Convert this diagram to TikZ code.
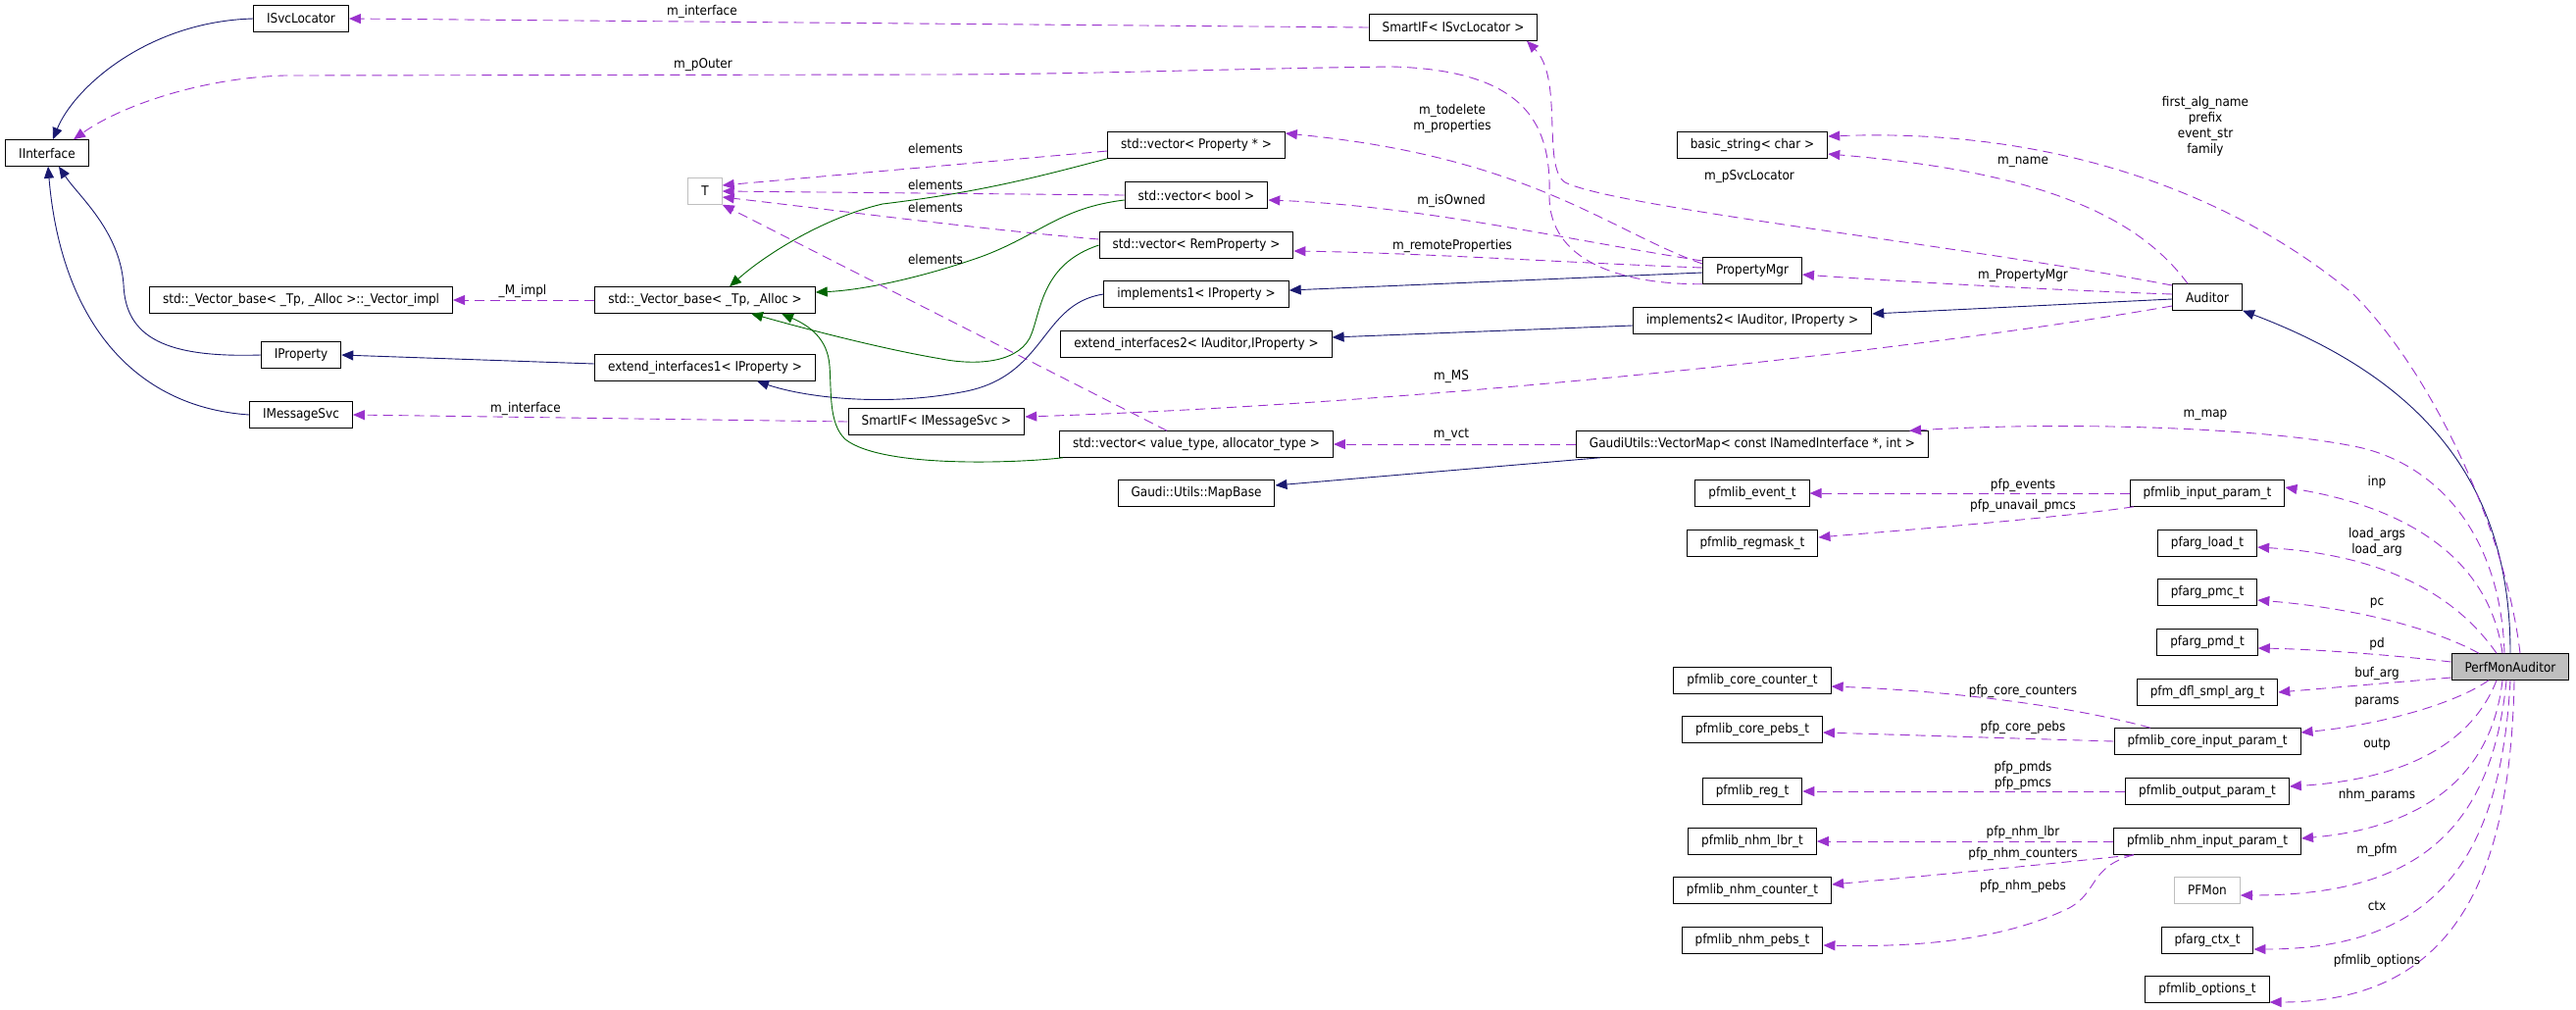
\documentclass[tikz,border=0pt]{standalone}
\usepackage{fontspec}
\setmainfont{DejaVu Sans Condensed}
\usetikzlibrary{arrows.meta}
\definecolor{midnight}{HTML}{191970}
\definecolor{forest}{HTML}{006400}
\definecolor{orchid}{HTML}{9A32CD}
\definecolor{undocgray}{HTML}{BFBFBF}
\begin{document}
\begin{tikzpicture}[x=1pt,y=-1pt]
 \tikzset{cls/.style={draw=black,line width=1pt,font=\fontsize{13.4}{16}\selectfont,inner xsep=13.5pt,inner ysep=0pt,minimum height=26.5pt},
  undoc/.style={cls,draw=undocgray},
  self/.style={cls,fill=undocgray},
  lbl/.style={font=\fontsize{13.4}{16}\selectfont,align=center,inner sep=0pt},
  pub/.style={draw=midnight,line width=0.9pt,-{Triangle[length=12pt,width=10pt]}},
  prot/.style={pub,draw=forest},
  member/.style={draw=orchid,line width=0.9pt,dash pattern=on 10pt off 6pt,-{Triangle[length=12pt,width=10pt]}}}
 \useasboundingbox (0,0) rectangle (2627,1029);

 \node[cls] (iif) at (48,156) {IInterface};
 \node[cls] (isl) at (307,19) {ISvcLocator};
 \node[cls] (vimpl) at (307,306) {std::\_Vector\_base< \_Tp, \_Alloc >::\_Vector\_impl};
 \node[cls] (ipr) at (307,362) {IProperty};
 \node[cls] (ims) at (307,423) {IMessageSvc};
 \node[undoc] (tnode) at (719,195) {T};
 \node[cls] (vbase) at (719,306) {std::\_Vector\_base< \_Tp, \_Alloc >};
 \node[cls] (ext1) at (719,375) {extend\_interfaces1< IProperty >};
 \node[cls] (sims) at (955,430) {SmartIF< IMessageSvc >};
 \node[cls] (vprop) at (1220,148) {std::vector< Property * >};
 \node[cls] (vbool) at (1220,199) {std::vector< bool >};
 \node[cls] (vrem) at (1220,250) {std::vector< RemProperty >};
 \node[cls] (impl1) at (1220,300) {implements1< IProperty >};
 \node[cls] (ext2) at (1220,351) {extend\_interfaces2< IAuditor,IProperty >};
 \node[cls] (vvt) at (1220,453) {std::vector< value\_type, allocator\_type >};
 \node[cls] (mapb) at (1220,503) {Gaudi::Utils::MapBase};
 \node[cls] (sisl) at (1482,28) {SmartIF< ISvcLocator >};
 \node[cls] (bstr) at (1787,148) {basic\_string< char >};
 \node[cls] (pmgr) at (1787,276) {PropertyMgr};
 \node[cls] (impl2) at (1787,327) {implements2< IAuditor, IProperty >};
 \node[cls] (vmap) at (1787,453) {GaudiUtils::VectorMap< const INamedInterface *, int >};
 \node[cls] (pevt) at (1787,503) {pfmlib\_event\_t};
 \node[cls] (pregm) at (1787,554) {pfmlib\_regmask\_t};
 \node[cls] (pcc) at (1787,694) {pfmlib\_core\_counter\_t};
 \node[cls] (pcp) at (1787,744) {pfmlib\_core\_pebs\_t};
 \node[cls] (preg) at (1787,807) {pfmlib\_reg\_t};
 \node[cls] (plbr) at (1787,858) {pfmlib\_nhm\_lbr\_t};
 \node[cls] (pnc) at (1787,908) {pfmlib\_nhm\_counter\_t};
 \node[cls] (pnp) at (1787,959) {pfmlib\_nhm\_pebs\_t};
 \node[cls] (aud) at (2251,303) {Auditor};
 \node[cls] (pinp) at (2251,503) {pfmlib\_input\_param\_t};
 \node[cls] (pload) at (2251,554) {pfarg\_load\_t};
 \node[cls] (ppmc) at (2251,604) {pfarg\_pmc\_t};
 \node[cls] (ppmd) at (2251,655) {pfarg\_pmd\_t};
 \node[cls] (pdfl) at (2251,706) {pfm\_dfl\_smpl\_arg\_t};
 \node[cls] (pcore) at (2251,756) {pfmlib\_core\_input\_param\_t};
 \node[cls] (poutp) at (2251,807) {pfmlib\_output\_param\_t};
 \node[cls] (pnhm) at (2251,858) {pfmlib\_nhm\_input\_param\_t};
 \node[undoc] (pfmon) at (2251,908) {PFMon};
 \node[cls] (pctx) at (2251,959) {pfarg\_ctx\_t};
 \node[cls] (popt) at (2251,1009) {pfmlib\_options\_t};
 \node[self] (pma) at (2560,680) {PerfMonAuditor};

 \draw[pub] (isl.west) .. controls (150,22) and (75,90) .. ([xshift=6pt]iif.north);
 \draw[pub] (ipr.west) .. controls (170,365) and (128,345) .. (126,290) .. controls (122,235) and (80,200) .. ([xshift=12pt]iif.south);
 \draw[pub] (ims.west) .. controls (135,415) and (62,325) .. ([xshift=1pt]iif.south);
 \draw[pub] ([yshift=4pt]ext1.west) -- (ipr.east);
 \draw[pub] (impl1.west) .. controls (1060,310) and (1068,385) .. (980,400) .. controls (900,415) and (820,405) .. ([xshift=53pt]ext1.south);
 \draw[pub] ([yshift=-2pt]pmgr.west) -- ([yshift=4pt]impl1.east);
 \draw[pub] ([yshift=-5pt]impl2.west) -- ([yshift=7pt]ext2.east);
 \draw[pub] ([yshift=-2pt]aud.west) -- ([yshift=7pt]impl2.east);
 \draw[pub] (pma.north) .. controls (2560,500) and (2480,390) .. (aud.south east);
 \draw[pub] ([xshift=-155pt]vmap.south) -- ([yshift=8pt]mapb.east);

 \draw[prot] (vprop.south west) .. controls (1060,180) and (1000,196) .. (900,208) .. controls (840,222) and (780,260) .. ([xshift=25pt]vbase.north);
 \draw[prot] ([yshift=-5pt]vbool.west) .. controls (1080,212) and (1060,240) .. (1000,262) .. controls (940,283) and (880,296) .. ([yshift=8pt]vbase.east);
 \draw[prot] (vrem.west) .. controls (1060,270) and (1062,320) .. (1050,345) .. controls (1035,372) and (990,372) .. (960,366) .. controls (900,356) and (820,335) .. ([xshift=47pt]vbase.south);
 \draw[prot] ([xshift=-136pt]vvt.south) .. controls (1040,472) and (900,478) .. (862,448) .. controls (845,432) and (848,400) .. (846,373) .. controls (844,345) and (825,332) .. ([xshift=78pt]vbase.south);

 \draw[member] (sisl.west) -- (isl.east);
 \draw[member] (sims.west) -- (ims.east);
 \draw[member] (pmgr.south west) .. controls (1650,290) and (1580,265) .. (1580,200) .. controls (1582,130) and (1560,72) .. (1420,68) .. controls (1250,70) and (1100,76) .. (950,76) -- (290,77) .. controls (200,80) and (120,110) .. ([xshift=27pt]iif.north);
 \draw[member] ([yshift=-6pt]vprop.west) -- ([yshift=6pt]tnode.east);
 \draw[member] (vbool.west) -- (tnode.east);
 \draw[member] ([yshift=6pt]vrem.west) .. controls (1000,234) and (850,214) .. ([yshift=-6pt]tnode.east);
 \draw[member] ([xshift=-30pt]vvt.north) -- (tnode.south east);
 \draw[member] ([yshift=7pt]pmgr.west) .. controls (1640,235) and (1560,160) .. ([yshift=12pt]vprop.east);
 \draw[member] ([yshift=10pt]pmgr.west) .. controls (1600,245) and (1450,210) .. ([yshift=-5pt]vbool.east);
 \draw[member] ([yshift=3pt]pmgr.west) .. controls (1600,268) and (1450,258) .. ([yshift=-6pt]vrem.east);
 \draw[member] ([yshift=3pt]aud.west) .. controls (2100,296) and (1950,288) .. ([yshift=-4pt]pmgr.east);
 \draw[member] ([xshift=-20pt]aud.north) .. controls (2180,220) and (2080,175) .. ([yshift=-9pt]bstr.east);
 \draw[member] ([xshift=10pt]pma.north) .. controls (2555,540) and (2480,380) .. (2400,300) .. controls (2280,200) and (2100,130) .. ([yshift=9pt]bstr.east);
 \draw[member] ([yshift=12pt]aud.west) .. controls (2000,250) and (1650,212) .. (1596,186) .. controls (1572,170) and (1595,80) .. ([xshift=75pt]sisl.south);
 \draw[member] ([yshift=-9pt]aud.west) .. controls (2000,350) and (1500,410) .. ([yshift=5pt]sims.east);
 \draw[member] (vmap.west) -- (vvt.east);
 \draw[member] ([xshift=-6pt]pma.north) .. controls (2550,540) and (2480,470) .. (2400,455) .. controls (2300,435) and (2100,430) .. ([xshift=-20pt]vmap.north east);
 \draw[member] (vbase.west) -- (vimpl.east);

 \draw[member] (pinp.west) -- (pevt.east);
 \draw[member] ([xshift=-75pt]pinp.south) .. controls (2100,528) and (1950,540) .. ([yshift=6pt]pregm.east);
 \draw[member] ([xshift=-8pt]pma.north) .. controls (2540,580) and (2470,520) .. ([yshift=6pt]pinp.east);
 \draw[member] ([xshift=-14pt]pma.north) .. controls (2500,600) and (2420,565) .. ([yshift=-4pt]pload.east);
 \draw[member] ([xshift=-32pt]pma.north) .. controls (2480,640) and (2400,620) .. ([yshift=-8pt]ppmc.east);
 \draw[member] ([yshift=5pt]pma.west) .. controls (2440,668) and (2360,662) .. ([yshift=-6pt]ppmd.east);
 \draw[member] ([yshift=-11pt]pma.west) -- (pdfl.east);
 \draw[member] ([xshift=-22pt]pma.south) .. controls (2500,720) and (2420,740) .. ([yshift=9pt]pcore.east);
 \draw[member] ([xshift=-14pt]pma.south) .. controls (2520,760) and (2450,795) .. ([yshift=5pt]poutp.east);
 \draw[member] ([xshift=-8pt]pma.south) .. controls (2540,800) and (2460,845) .. ([yshift=3pt]pnhm.east);
 \draw[member] ([xshift=-4pt]pma.south) .. controls (2540,860) and (2450,913) .. ([yshift=-5pt]pfmon.east);
 \draw[member] (pma.south) .. controls (2550,880) and (2480,968) .. ([yshift=-9pt]pctx.east);
 \draw[member] ([xshift=4pt]pma.south) .. controls (2560,900) and (2500,1022) .. ([yshift=-13pt]popt.east);
 \draw[member] ([xshift=-58pt]pcore.north) .. controls (2120,722) and (2000,705) .. ([yshift=-6pt]pcc.east);
 \draw[member] (pcore.west) -- ([yshift=-3pt]pcp.east);
 \draw[member] (poutp.west) -- (preg.east);
 \draw[member] (pnhm.west) -- (plbr.east);
 \draw[member] ([xshift=-75pt]pnhm.south) .. controls (2100,880) and (2000,890) .. ([yshift=6pt]pnc.east);
 \draw[member] ([xshift=-75pt]pnhm.south) .. controls (2130,884) and (2140,910) .. (2110,926) .. controls (2040,960) and (1950,966) .. ([yshift=-5pt]pnp.east);

 \node[lbl] (linter) at (716,12) {m\_interface};
 \node[lbl] (louter) at (717,66) {m\_pOuter};
 \node[lbl] (lel1) at (954,151) {elements};
 \node[lbl] (lel2) at (954,188) {elements};
 \node[lbl] (lel3) at (954,211) {elements};
 \node[lbl] (lel4) at (954,264) {elements};
 \node[lbl] (lprops) at (1481,121) {m\_todelete\\m\_properties};
 \node[lbl] (lowned) at (1480,205) {m\_isOwned};
 \node[lbl] (lremote) at (1481,251) {m\_remoteProperties};
 \node[lbl] (lsvcloc) at (1784,180) {m\_pSvcLocator};
 \node[lbl] (lname) at (2063,165) {m\_name};
 \node[lbl] (lstrs) at (2249,129) {first\_alg\_name\\prefix\\event\_str\\family};
 \node[lbl] (lpmgr) at (2063,281) {m\_PropertyMgr};
 \node[lbl] (limpl) at (533,297) {\_M\_impl};
 \node[lbl] (linter2) at (536,417) {m\_interface};
 \node[lbl] (lms) at (1480,384) {m\_MS};
 \node[lbl] (lvct) at (1480,443) {m\_vct};
 \node[lbl] (lmap) at (2249,423) {m\_map};
 \node[lbl] (levents) at (2063,495) {pfp\_events};
 \node[lbl] (lunavail) at (2063,516) {pfp\_unavail\_pmcs};
 \node[lbl] (linp) at (2424,492) {inp};
 \node[lbl] (lload) at (2424,553) {load\_args\\load\_arg};
 \node[lbl] (lpc) at (2424,615) {pc};
 \node[lbl] (lpd) at (2424,657) {pd};
 \node[lbl] (lbuf) at (2424,687) {buf\_arg};
 \node[lbl] (lparams) at (2424,716) {params};
 \node[lbl] (lcorecnt) at (2063,705) {pfp\_core\_counters};
 \node[lbl] (lcorepebs) at (2063,742) {pfp\_core\_pebs};
 \node[lbl] (loutp) at (2424,759) {outp};
 \node[lbl] (lpmds) at (2063,791) {pfp\_pmds\\pfp\_pmcs};
 \node[lbl] (lnhmpar) at (2424,811) {nhm\_params};
 \node[lbl] (llbr) at (2063,849) {pfp\_nhm\_lbr};
 \node[lbl] (lnhmcnt) at (2063,871) {pfp\_nhm\_counters};
 \node[lbl] (lpfm) at (2424,867) {m\_pfm};
 \node[lbl] (lnhmpebs) at (2063,904) {pfp\_nhm\_pebs};
 \node[lbl] (lctx) at (2424,924) {ctx};
 \node[lbl] (lopts) at (2424,980) {pfmlib\_options};
\end{tikzpicture}
\end{document}
